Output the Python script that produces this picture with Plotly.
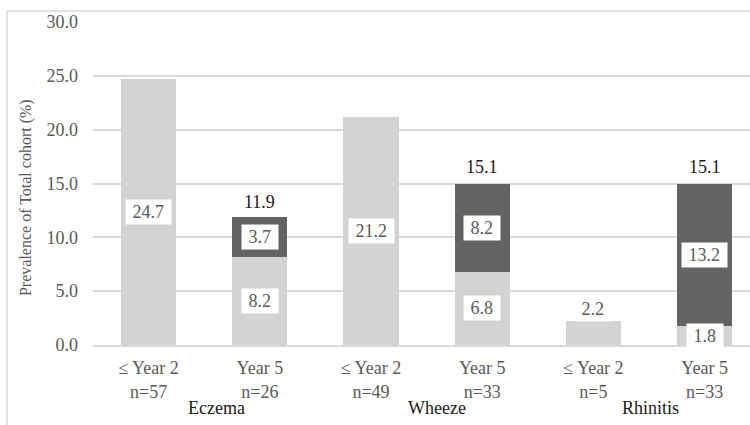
import plotly.graph_objects as go

# Prevalence of each outcome (% of total cohort) split by onset
categories = ["≤ Year 2<br>n=57", "Year 5<br>n=26",
              "≤ Year 2<br>n=49", "Year 5<br>n=33",
              "≤ Year 2<br>n=5", "Year 5<br>n=33"]
early_onset = [24.7, 8.2, 21.2, 6.8, 2.2, 1.8]
new_onset = [0, 3.7, 0, 8.2, 0, 13.2]
totals = [None, 11.9, None, 15.1, None, 15.1]
groups = ["Eczema", "Wheeze", "Rhinitis"]
group_pos = [0.607, 2.594, 4.51]
y_ticks = [0, 5, 10, 15, 20, 25, 30]

LIGHT = "#d3d3d5"
DARK = "#636363"
GRID = "#d9d9d9"
GREY_TXT = "#595959"
FONT = "'Liberation Serif', 'Times New Roman', 'DejaVu Serif', serif"
FS = 18

x = list(range(len(categories)))

fig = go.Figure()
fig.add_trace(go.Bar(x=x, y=early_onset, marker=dict(color=LIGHT, line=dict(width=0)),
                     hoverinfo="skip"))
fig.add_trace(go.Bar(x=x, y=new_onset, marker=dict(color=DARK, line=dict(width=0)),
                     hoverinfo="skip"))

box_font = dict(family=FONT, size=FS, color=GREY_TXT)


def boxed(v):
    return f"&nbsp;{v:.1f}&nbsp;"


annotations = []
# boxed value labels centred in each segment
for i, v in enumerate(early_onset):
    if v < 3:
        annotations.append(dict(x=i, y=v, text=boxed(v), showarrow=False, yanchor="middle",
                                yshift=-10 if new_onset[i] else 12,
                                bgcolor="white", borderpad=2, font=box_font))
    else:
        annotations.append(dict(x=i, y=v / 2, text=boxed(v), showarrow=False,
                                bgcolor="white", borderpad=2, font=box_font))
for i, v in enumerate(new_onset):
    if v:
        annotations.append(dict(x=i, y=early_onset[i] + v / 2, text=boxed(v), showarrow=False,
                                bgcolor="white", borderpad=2, font=box_font))
# totals above stacked bars
for i, t in enumerate(totals):
    if t is not None:
        annotations.append(dict(x=i, y=t, text=f"{t:.1f}", showarrow=False, yanchor="bottom",
                                yshift=3, font=dict(family=FONT, size=FS, color="#1a1a1a")))
# outcome group labels
for g, p in zip(groups, group_pos):
    annotations.append(dict(x=p, xref="x", y=-0.195, yref="paper", text=g, showarrow=False,
                            yanchor="middle", font=dict(family=FONT, size=FS, color="#1a1a1a")))
# y-axis title
annotations.append(dict(x=-0.102, xref="paper", xanchor="center", y=0.458, yref="paper",
                        yanchor="middle", text="Prevalence of Total cohort (%)", textangle=-90,
                        showarrow=False, font=dict(family=FONT, size=16, color=GREY_TXT)))

# outer frame (top and left edges)
shapes = [
    dict(type="line", xref="paper", yref="paper", x0=-0.1309, x1=1.2, y0=1.034, y1=1.034,
         line=dict(color=GRID, width=1.5)),
    dict(type="line", xref="paper", yref="paper", x0=-0.1309, x1=-0.1309, y0=1.034, y1=-0.5,
         line=dict(color=GRID, width=1.5)),
]

fig.update_layout(
    barmode="stack",
    bargap=0.505,
    width=750, height=425,
    margin=dict(l=93, r=0, t=22, b=80),
    plot_bgcolor="white", paper_bgcolor="white",
    showlegend=False,
    annotations=annotations,
    shapes=shapes,
    font=dict(family=FONT, size=FS, color=GREY_TXT),
    xaxis=dict(range=[-0.5, 5.408], tickvals=x, ticktext=categories, showgrid=False,
               showline=True, linecolor=GRID, linewidth=1.5, ticks="", zeroline=False,
               tickfont=dict(family=FONT, size=FS, color=GREY_TXT), ticklabelstandoff=6),
    yaxis=dict(range=[0, 30], tickvals=y_ticks, ticktext=[f"{t:.1f}" for t in y_ticks],
               showgrid=True, gridcolor=GRID, gridwidth=1.5, zeroline=False, ticks="",
               tickfont=dict(family=FONT, size=FS, color=GREY_TXT), ticklabelstandoff=14),
)

fig.write_html("out.html")
